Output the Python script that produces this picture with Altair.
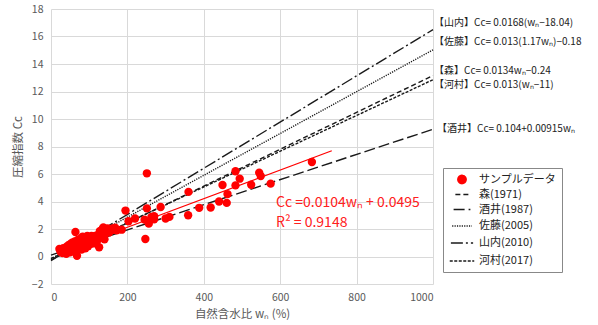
import altair as alt
import pandas as pd

# ---- sample data (natural water content wn %, compression index Cc) ----
w_data = [22, 25, 28, 30, 32, 35, 36, 38, 40, 40, 42, 44, 45, 46, 48, 50, 50, 52, 53, 55,
          55, 57, 58, 60, 60, 62, 63, 64, 65, 66, 67, 68, 68, 70, 70, 72, 73, 74, 75, 76,
          77, 78, 79, 80, 80, 82, 83, 84, 85, 86, 87, 88, 89, 90, 90, 92, 93, 94, 95, 96,
          97, 98, 100, 100, 102, 103, 105, 106, 108, 110, 110, 112, 114, 115, 117, 118, 120, 122, 124, 126,
          127, 128, 130, 132, 134, 135, 137, 138, 140, 140, 142, 144, 146, 148, 150, 152, 155, 158, 162, 165,
          168, 172, 185,
          195, 203, 220, 245, 247, 251, 251, 256, 263, 270, 270, 287, 300, 310, 360, 359, 388, 418, 440, 449,
          460, 462, 483, 483, 494, 524, 545, 549, 575, 683]
cc_data = [0.55, 0.35, 0.45, 0.25, 0.6, 0.3, 0.5, 0.4, 0.7, 0.2, 0.55, 0.35, 0.8, 0.45, 0.6, 0.3, 0.9, 0.5, 0.7, 0.4,
           1.0, 0.6, 0.85, 0.5, 0.75, 1.1, 0.45, 1.78, 0.9, 0.65, 0.8, 0.05, 1.0, 0.55, 1.2, 0.7, 0.95, 1.05, 0.6, 0.85,
           1.3, 0.75, 1.0, 0.5, 1.15, 0.9, 1.45, 0.7, 1.05, 1.25, 0.8, 1.1, 0.95, 0.6, 1.35, 1.0, 1.2, 0.85, 1.5, 1.1,
           0.75, 1.3, 0.95, 1.4, 1.15, 0.9, 1.3, 1.5, 1.05, 1.25, 0.95, 1.4, 1.15, 1.5, 1.3, 1.0, 1.45, 1.2, 1.6, 0.67,
           1.35, 1.85, 1.5, 1.9, 1.65, 2.0, 2.12, 1.45, 1.8, 1.25, 2.0, 1.7, 1.9, 2.05, 1.85, 1.75, 2.0, 1.9, 2.05, 1.95,
           2.1, 1.9, 1.95,
           3.34, 2.56, 2.76, 2.68, 1.27, 6.05, 3.5, 2.39, 2.88, 2.93, 2.7, 3.6, 2.76, 2.88, 4.7, 3.0, 3.54, 3.56, 4.0, 5.2,
           3.9, 4.54, 6.2, 5.17, 5.66, 5.22, 6.1, 5.85, 5.3, 6.87]

# ---- empirical relations ----
series_names = ["サンプルデータ", "森(1971)", "酒井(1987)", "佐藤(2005)", "山内(2010)", "河村(2017)"]
line_names = ["森(1971)", "酒井(1987)", "佐藤(2005)", "山内(2010)", "河村(2017)"]
slopes = [0.0134, 0.00915, 0.013 * 1.17, 0.0168, 0.013]
intercepts = [-0.24, 0.104, -0.18, -0.0168 * 18.04, -0.013 * 11]
line_w = [0, 1000]
eq_labels = ["【森】Cc= 0.0134wₙ−0.24", "【酒井】Cc= 0.104+0.00915wₙ", "【佐藤】Cc= 0.013(1.17wₙ)−0.18",
             "【山内】Cc= 0.0168(wₙ−18.04)", "【河村】Cc= 0.013(wₙ−11)"]

# regression
reg_slope, reg_intercept = 0.0104, 0.0495
reg_w = [20, 735]
reg_text = ["Cc =0.0104wₙ + 0.0495", "R² = 0.9148"]

x_ticks = [0, 200, 400, 600, 800, 1000]
y_ticks = [-2, 0, 2, 4, 6, 8, 10, 12, 14, 16, 18]

FONT = "Noto Sans CJK JP"

pts = pd.DataFrame({"w": w_data, "cc": cc_data, "series": "サンプルデータ"})
rows = []
for n, s, b in zip(line_names, slopes, intercepts):
    for w in line_w:
        rows.append({"w": w, "cc": s * w + b, "series": n})
lines = pd.DataFrame(rows)
lab = pd.DataFrame({
    "w": [1000] * 5,
    "cc": [s * 1000 + b for s, b in zip(slopes, intercepts)],
    "label": eq_labels,
    "series": line_names,
})
reg = pd.DataFrame({"w": reg_w, "cc": [reg_slope * w + reg_intercept for w in reg_w]})

color_scale = alt.Scale(domain=series_names, range=["#ff0000"] + ["#1a1a1a"] * 5)
dash_scale = alt.Scale(domain=series_names,
                       range=[[1, 0], [5, 3], [11, 4], [1.2, 1.2], [12, 3, 2, 3], [3, 1.5]])
shape_scale = alt.Scale(domain=series_names, range=["circle"] + ["stroke"] * 5)
size_scale = alt.Scale(domain=series_names, range=[70] + [600] * 5)

xs = alt.X("w:Q", scale=alt.Scale(domain=[0, 1000]),
           axis=alt.Axis(values=x_ticks, format="d", labelOverlap=False, title="自然含水比 wₙ (%)"))
ys = alt.Y("cc:Q", scale=alt.Scale(domain=[-2, 18]),
           axis=alt.Axis(values=y_ticks, format="d", labelOverlap=False, title="圧縮指数 Cc"))

leg = alt.Legend(title=None)

points = alt.Chart(pts).mark_point(filled=True, opacity=1).encode(
    x=xs, y=ys,
    color=alt.Color("series:N", scale=color_scale, legend=leg),
    shape=alt.Shape("series:N", scale=shape_scale, legend=leg),
    size=alt.Size("series:N", scale=size_scale, legend=leg),
)

line_layer = alt.Chart(lines).mark_line(strokeWidth=1.4).encode(
    x=xs, y=ys,
    color=alt.Color("series:N", scale=color_scale, legend=leg),
    strokeDash=alt.StrokeDash("series:N", scale=dash_scale, legend=leg),
)

reg_line = alt.Chart(reg).mark_line(color="#ff0000", strokeWidth=1.2).encode(x=xs, y=ys)

dy_map = {"山内(2010)": -7, "佐藤(2005)": -8, "森(1971)": -5, "河村(2017)": 5, "酒井(1987)": 0}
label_layers = []
for n in line_names:
    label_layers.append(
        alt.Chart(lab[lab.series == n]).mark_text(
            align="left", baseline="middle", dx=1 if n != "酒井(1987)" else 4, dy=dy_map[n],
            fontSize=10, font=FONT, color="#222222"
        ).encode(x=xs, y=ys, text="label:N")
    )

red_df = pd.DataFrame({"w": [589, 589], "cc": [3.9, 2.45], "t": reg_text})
red_text = alt.Chart(red_df).mark_text(
    align="left", baseline="middle", fontSize=14, font=FONT, color="#ff2020"
).encode(x=xs, y=ys, text="t:N")

chart = alt.layer(reg_line, line_layer, points, red_text, *label_layers).properties(
    width=382, height=275,
    autosize="none",
    padding={"left": 51, "top": 9, "right": 165, "bottom": 41},
).configure_view(stroke=None).configure_axis(
    grid=True, gridColor="#d9d9d9", gridWidth=1, domain=False, ticks=False, labelOverlap=False,
    labelFont=FONT, labelFontSize=10.5, labelColor="#595959",
    titleFont=FONT, titleFontSize=11.5, titleColor="#595959", titleFontWeight="normal",
).configure_axisX(labelPadding=8, titlePadding=6).configure_axisY(labelPadding=8, titlePadding=8).configure_legend(
    orient="none", legendX=392, legendY=159, padding=6,
    strokeColor="#888888", fillColor="white",
    labelFont=FONT, labelFontSize=11, labelColor="#222222",
    symbolStrokeWidth=1.4, rowPadding=0,
)

chart.save("out.html", embed_options={"renderer": "svg", "actions": False})
